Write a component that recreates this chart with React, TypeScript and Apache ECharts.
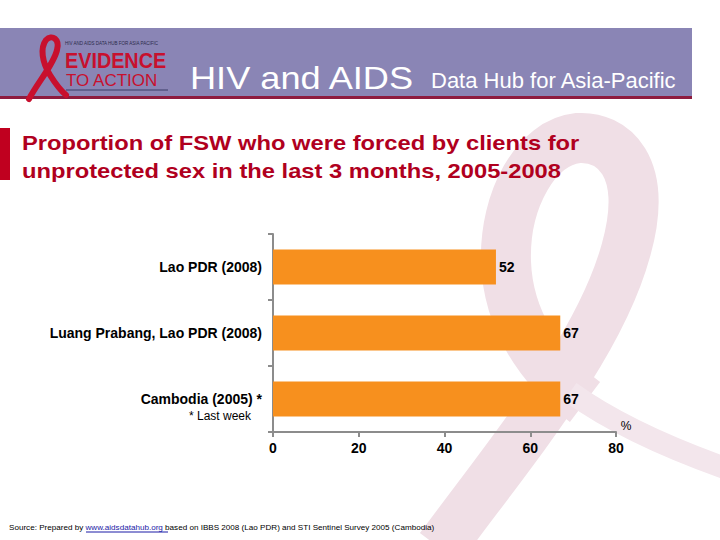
import React, { useEffect, useRef } from 'react';
import * as echarts from 'echarts';

const categories = ['Lao PDR (2008)', 'Luang Prabang, Lao PDR (2008)', 'Cambodia (2005) *'];
const values = [52, 67, 67];
const xMin = 0;
const xMax = 80;
const xInterval = 20;

const titleLines = [
  'Proportion of FSW who were forced by clients for',
  'unprotected sex in the last 3 months, 2005-2008',
];
const footnote = '* Last week';
const unitLabel = '%';
const sourcePre = 'Source: Prepared by ';
const sourceLink = 'www.aidsdatahub.org';
const sourcePost = ' based on IBBS 2008 (Lao PDR) and STI Sentinel Survey 2005 (Cambodia)';

const WM1 =
  'M 440 548 C 520 440, 600 345, 626 250 C 650 165, 612 136, 578 138 C 536 142, 504 200, 506 262 C 508 320, 540 368, 585 402';
const WM2 = 'M 570 392 C 620 428, 680 452, 725 468';
const LOGO = 'M 29 99 C 38 82, 54 64, 57 50 C 60 39, 52 34, 46 40 C 40 48, 42 62, 50 75 C 55 83, 60 90, 66 95';

echarts.graphic.registerShape('wmRibbon1', echarts.graphic.extendPath(WM1, {}));
echarts.graphic.registerShape('wmRibbon2', echarts.graphic.extendPath(WM2, {}));
echarts.graphic.registerShape('logoRibbon', echarts.graphic.extendPath(LOGO, {}));

const FONT = '"Liberation Sans", Arial, sans-serif';

export default function App() {
  const ref = useRef<HTMLDivElement>(null);
  useEffect(() => {
    if (!ref.current) return;
    const chart = echarts.init(ref.current, null, { renderer: 'svg' });
    const option: any = {
      animation: false,
      backgroundColor: '#ffffff',
      grid: { left: 273, top: 234, width: 343, height: 198, containLabel: false },
      xAxis: {
        type: 'value',
        min: xMin,
        max: xMax,
        interval: xInterval,
        axisLine: { show: true, lineStyle: { color: '#8c8c8c', width: 2 } },
        axisTick: { show: true, length: 5, lineStyle: { color: '#8c8c8c', width: 2 } },
        splitLine: { show: false },
        axisLabel: { color: '#000', fontSize: 14, fontWeight: 'bold', fontFamily: FONT, margin: 9 },
      },
      yAxis: {
        type: 'category',
        inverse: true,
        data: categories,
        axisLine: { show: true, lineStyle: { color: '#8c8c8c', width: 2 } },
        axisTick: { show: true, length: 5, lineStyle: { color: '#8c8c8c', width: 2 } },
        axisLabel: { color: '#000', fontSize: 14, fontWeight: 'bold', fontFamily: FONT, margin: 11 },
      },
      series: [
        {
          type: 'bar',
          data: values,
          barWidth: 35,
          itemStyle: { color: '#F7901E' },
          label: {
            show: true,
            position: 'right',
            distance: 3,
            color: '#000',
            fontSize: 14,
            fontWeight: 'bold',
            fontFamily: FONT,
          },
          z: 3,
        },
      ],
      graphic: [
        {
          type: 'wmRibbon1',
          z: -10,
          silent: true,
          style: { fill: 'none', stroke: '#F0DFE6', lineWidth: 50, lineCap: 'butt' },
        },
        {
          type: 'wmRibbon2',
          z: -10,
          silent: true,
          style: { fill: 'none', stroke: '#F3E6EC', lineWidth: 22, lineCap: 'butt' },
        },
        {
          type: 'rect',
          z: 1,
          shape: { x: 0, y: 28, width: 692, height: 69 },
          style: { fill: '#8A85B5' },
        },
        {
          type: 'rect',
          z: 1,
          shape: { x: 0, y: 96, width: 692, height: 3 },
          style: { fill: '#8E1B3F' },
        },
        {
          type: 'logoRibbon',
          z: 2,
          style: { fill: 'none', stroke: '#C8102E', lineWidth: 6, lineCap: 'round' },
        },
        {
          type: 'text',
          z: 2,
          x: 65,
          y: 43,
          style: {
            text: 'HIV AND AIDS DATA HUB FOR ASIA PACIFIC',
            fill: '#2b2b4a',
            font: `4.5px ${FONT}`,
            textAlign: 'left',
            textVerticalAlign: 'middle',
          },
        },
        {
          type: 'text',
          z: 2,
          x: 65,
          y: 60,
          scaleX: 0.9,
          style: {
            text: 'EVIDENCE',
            fill: '#C8102E',
            font: `bold 22px ${FONT}`,
            textAlign: 'left',
            textVerticalAlign: 'middle',
          },
        },
        {
          type: 'text',
          z: 2,
          x: 66,
          y: 80,
          style: {
            text: 'TO ACTION',
            fill: '#C8102E',
            font: `17px ${FONT}`,
            textAlign: 'left',
            textVerticalAlign: 'middle',
          },
        },
        {
          type: 'line',
          z: 2,
          shape: { x1: 66, y1: 90, x2: 168, y2: 90 },
          style: { stroke: '#3a3a66', lineWidth: 1 },
        },
        {
          type: 'text',
          z: 2,
          x: 190,
          y: 78,
          scaleX: 1.13,
          style: {
            text: 'HIV and AIDS',
            fill: '#ffffff',
            font: `32px ${FONT}`,
            textAlign: 'left',
            textVerticalAlign: 'middle',
          },
        },
        {
          type: 'text',
          z: 2,
          x: 431,
          y: 80,
          style: {
            text: 'Data Hub for Asia-Pacific',
            fill: '#ffffff',
            font: `22px ${FONT}`,
            textAlign: 'left',
            textVerticalAlign: 'middle',
          },
        },
        {
          type: 'rect',
          z: 2,
          shape: { x: 0, y: 128, width: 10, height: 52 },
          style: { fill: '#C0001F' },
        },
        {
          type: 'text',
          z: 2,
          x: 22,
          y: 143,
          scaleX: 1.13,
          style: {
            text: titleLines[0],
            fill: '#B0001E',
            font: `bold 21px ${FONT}`,
            textAlign: 'left',
            textVerticalAlign: 'middle',
          },
        },
        {
          type: 'text',
          z: 2,
          x: 22,
          y: 171,
          scaleX: 1.13,
          style: {
            text: titleLines[1],
            fill: '#B0001E',
            font: `bold 21px ${FONT}`,
            textAlign: 'left',
            textVerticalAlign: 'middle',
          },
        },
        {
          type: 'text',
          z: 2,
          x: 251,
          y: 416,
          style: {
            text: footnote,
            fill: '#000',
            font: `12px ${FONT}`,
            textAlign: 'right',
            textVerticalAlign: 'middle',
          },
        },
        {
          type: 'text',
          z: 2,
          x: 626,
          y: 426,
          style: {
            text: unitLabel,
            fill: '#000',
            font: `12px ${FONT}`,
            textAlign: 'center',
            textVerticalAlign: 'middle',
          },
        },
        {
          type: 'text',
          z: 2,
          x: 9,
          y: 527,
          style: {
            text: `{a|${sourcePre}}{b|${sourceLink}}{a|${sourcePost}}`,
            textAlign: 'left',
            textVerticalAlign: 'middle',
            rich: {
              a: { fill: '#000', fontSize: 8.1, fontFamily: FONT },
              b: { fill: '#1a1aa6', fontSize: 8.1, fontFamily: FONT },
            },
          },
        },
        {
          type: 'line',
          z: 2,
          shape: { x1: 86, y1: 532, x2: 168, y2: 532 },
          style: { stroke: '#1a1aa6', lineWidth: 1 },
        },
      ],
    };
    chart.setOption(option);
    return () => chart.dispose();
  }, []);
  return (
    <div
      ref={ref}
      style={{ position: 'fixed', left: 0, top: 0, width: 720, height: 540 }}
    />
  );
}
